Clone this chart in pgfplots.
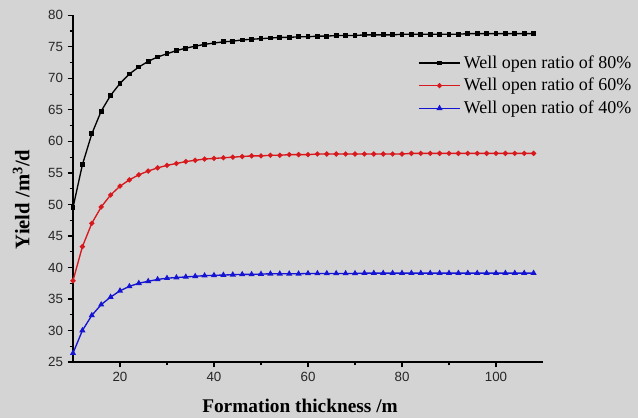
\documentclass[border=0pt]{standalone}
\usepackage{pgfplots}
\pgfplotsset{compat=1.18}
\usepackage{pgfplotstable}
\usepackage{fontspec}
\setmainfont{Liberation Serif}
\newfontfamily\tickfont{Liberation Sans}
\usetikzlibrary{backgrounds,calc}
\definecolor{bg}{RGB}{212,212,212}
\definecolor{cred}{RGB}{215,25,30}
\definecolor{cblue}{RGB}{20,20,210}
\pgfplotstableread{
x b r g
10 49.5 37.9 26.4
12 56.3 43.3 30.0
14 61.2 47.0 32.4
16 64.8 49.6 34.1
18 67.3 51.5 35.3
20 69.2 52.9 36.3
22 70.7 53.9 37.0
24 71.8 54.7 37.5
26 72.7 55.3 37.8
28 73.4 55.8 38.1
30 73.9 56.2 38.3
32 74.4 56.5 38.4
34 74.8 56.8 38.5
36 75.1 57.0 38.6
38 75.4 57.2 38.7
40 75.6 57.3 38.75
42 75.8 57.4 38.8
44 75.9 57.5 38.85
46 76.1 57.6 38.9
48 76.2 57.7 38.9
50 76.3 57.7 38.95
52 76.4 57.8 39.0
54 76.5 57.8 39.0
56 76.5 57.9 39.0
58 76.6 57.9 39.0
60 76.6 57.9 39.05
62 76.7 58.0 39.05
64 76.7 58.0 39.05
66 76.8 58.0 39.05
68 76.8 58.0 39.05
70 76.8 58.0 39.05
72 76.9 58.0 39.1
74 76.9 58.0 39.1
76 76.9 58.0 39.1
78 76.9 58.0 39.1
80 77.0 58.0 39.1
82 77.0 58.1 39.1
84 77.0 58.1 39.1
86 77.0 58.1 39.1
88 77.0 58.1 39.1
90 77.0 58.1 39.1
92 77.0 58.1 39.1
94 77.1 58.1 39.1
96 77.1 58.1 39.1
98 77.1 58.1 39.1
100 77.1 58.1 39.1
102 77.1 58.1 39.1
104 77.1 58.1 39.1
106 77.1 58.1 39.1
108 77.1 58.1 39.1
}\data
\begin{document}
\begin{tikzpicture}
\begin{axis}[
  scale only axis,
  width=352.5pt, height=260pt,
  xmin=10, xmax=110, ymin=25, ymax=80,
  axis x line*=bottom, axis y line*=left,
  axis line style={line width=1.1pt},
  xtick={20,40,60,80,100}, minor xtick={30,50,70,90},
  ytick={25,30,...,80}, minor ytick={27.5,32.5,...,77.5},
  tick align=outside,
  major tick length=4pt, minor tick length=2.5pt,
  tick style={line width=0.9pt, black},
  ticklabel style={font=\tickfont\fontsize{10}{11}\selectfont, text=black!85},
  /pgf/number format/assume math mode=true,
  xlabel={\bfseries Formation thickness /m},
  ylabel={\bfseries Yield /m$^{\mathbf{3}}$/d},
  xlabel style={font=\fontsize{14.5}{15}\selectfont, yshift=-6pt, xshift=-6pt},
  ylabel style={font=\fontsize{15.5}{16}\selectfont, yshift=7pt, xshift=-8pt},
  legend style={at={(0.725,0.9)}, anchor=north west, draw=none, fill=none,
    font=\fontsize{13.5}{14}\selectfont, row sep=2pt},
  legend cell align=left,
  legend image code/.code={\draw[mark repeat=2,mark phase=2,#1] plot coordinates {(0cm,0cm) (0.55cm,0cm) (1.1cm,0cm)};},
  every axis plot/.append style={line width=1pt},
]
\coordinate (o) at (rel axis cs:0,0);
\addplot[black, mark=square*, mark size=1.3pt] table[x=x,y=b]{\data};
\addlegendentry{Well open ratio of 80\%}
\addplot[cred, mark=*, mark size=1.4pt] table[x=x,y=r]{\data};
\addlegendentry{Well open ratio of 60\%}
\addplot[cblue, mark=triangle*, mark size=1.7pt] table[x=x,y=g]{\data};
\addlegendentry{Well open ratio of 40\%}
\end{axis}
\begin{scope}[on background layer]
\fill[bg] ($(o)+(-54.75pt,-42pt)$) rectangle ++(478.5pt,313.5pt);
\end{scope}
\end{tikzpicture}
\end{document}
